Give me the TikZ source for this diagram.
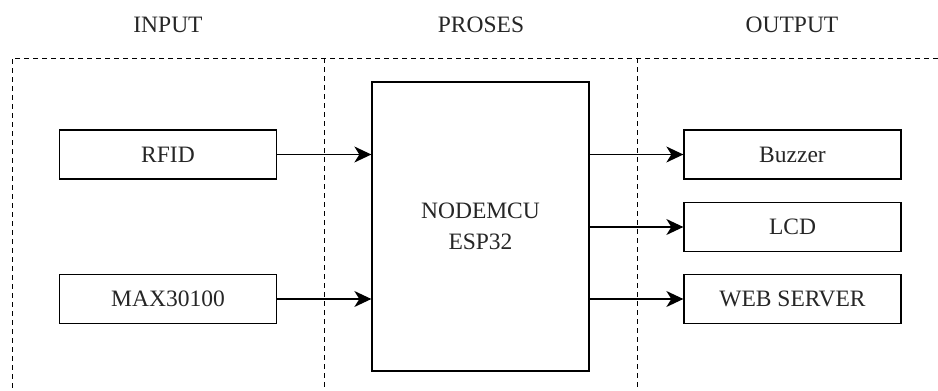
\documentclass[tikz,border=0pt]{standalone}
\usepackage{fontspec}
\setmainfont{Liberation Serif}
\usetikzlibrary{arrows.meta}
\begin{document}
\begin{tikzpicture}[x=1pt,y=-1pt,
  every node/.style={font=\fontsize{23.5}{31}\selectfont, text=black!85},
  blockbox/.style={draw=black, line width=1.3pt, minimum width=217pt, minimum height=49pt, inner sep=0pt, fill=white},
  sepline/.style={draw=black, line width=1pt, dash pattern=on 5pt off 4pt},
  conn/.style={draw=black, line width=1.3pt, -{Stealth[length=17pt,width=16pt,inset=5pt]}},
  heading/.style={inner sep=0pt}]
\useasboundingbox (0,0) rectangle (938,391);
% separators
\coordinate (tl) at (12,58);
\coordinate (tr) at (938,58);
\coordinate (bl) at (12,391);
\coordinate (m1t) at (324,58);
\coordinate (m1b) at (324,391);
\coordinate (m2t) at (637,58);
\coordinate (m2b) at (637,391);
\draw[sepline] (tr) -- (tl) -- (bl);
\draw[sepline] (m1t) -- (m1b);
\draw[sepline] (m2t) -- (m2b);
% headings
\node[heading] (hin) at (168,25) {INPUT};
\node[heading] (hpro) at (481,25) {PROSES};
\node[heading] (hout) at (792,25) {OUTPUT};
% blocks
\node[blockbox] (rfid) at (168,154.5) {RFID};
\node[blockbox] (max) at (168,299) {MAX30100};
\node[blockbox, minimum height=289pt, align=center] (mcu) at (480.5,226.5) {NODEMCU\\ESP32};
\node[blockbox] (buz) at (792.5,154.5) {Buzzer};
\node[blockbox] (lcd) at (792.5,227) {LCD};
\node[blockbox] (web) at (792.5,299) {WEB SERVER};
% connectors
\draw[conn] (rfid.east) -- (mcu.west |- rfid.east);
\draw[conn] (max.east) -- (mcu.west |- max.east);
\draw[conn] (mcu.east |- buz.west) -- (buz.west);
\draw[conn] (mcu.east |- lcd.west) -- (lcd.west);
\draw[conn] (mcu.east |- web.west) -- (web.west);
\end{tikzpicture}
\end{document}
